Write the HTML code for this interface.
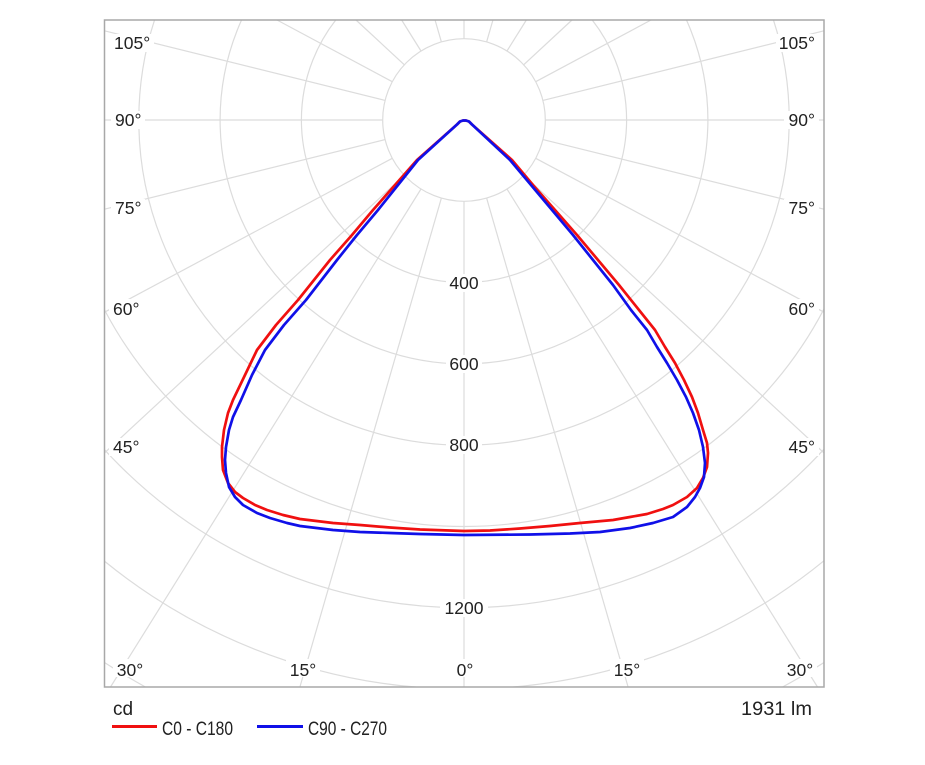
<!DOCTYPE html>
<html>
<head>
<meta charset="utf-8">
<style>
  html, body { margin: 0; padding: 0; background: #ffffff; width: 925px; height: 765px; overflow: hidden; position: relative; }
  svg { display: block; position: absolute; left: 0; top: 0; }
  text { font-family: "Liberation Sans", "DejaVu Sans", sans-serif; fill: #222; }
</style>
</head>
<body>
<svg width="925" height="765" viewBox="0 0 925 765" xmlns="http://www.w3.org/2000/svg">
  <defs>
    <clipPath id="frame">
      <rect x="104.5" y="20" width="719.5" height="667"/>
    </clipPath>
  </defs>
  <rect x="0" y="0" width="925" height="765" fill="#fff"/>

  <!-- grid circles -->
  <g clip-path="url(#frame)" stroke="#dcdcdc" stroke-width="1.2" fill="none">
    <circle cx="464" cy="120" r="81.3"/>
    <circle cx="464" cy="120" r="162.6"/>
    <circle cx="464" cy="120" r="243.9"/>
    <circle cx="464" cy="120" r="325.2"/>
    <circle cx="464" cy="120" r="406.5"/>
    <circle cx="464" cy="120" r="487.8"/>
    <circle cx="464" cy="120" r="569.1"/>
  </g>
  <g stroke="#dcdcdc" stroke-width="1.2" fill="none">
    <path d="M104.5,662.5 A650.4,650.4 0 0 0 145.4,687"/>
    <path d="M824,662.5 A650.4,650.4 0 0 1 782.6,687"/>
    <!-- radial lines, left -->
    <line x1="464" y1="201.3" x2="464" y2="687"/>
    <line x1="441.4" y1="198.1" x2="299.9" y2="687"/>
    <line x1="421.0" y1="189.0" x2="110.5" y2="687"/>
    <line x1="404.35" y1="175.2" x2="104.5" y2="452.9"/>
    <line x1="392.3" y1="158.3" x2="104.5" y2="312.2"/>
    <line x1="385.1" y1="139.6" x2="104.5" y2="209.2"/>
    <line x1="382.7" y1="120" x2="104.5" y2="120"/>
    <line x1="385.1" y1="100.4" x2="104.5" y2="30.8"/>
    <line x1="392.3" y1="81.7" x2="277" y2="20"/>
    <line x1="404.35" y1="64.8" x2="356" y2="20"/>
    <line x1="421.0" y1="51.0" x2="401.65" y2="20"/>
    <line x1="441.4" y1="41.9" x2="435.06" y2="20"/>
    <line x1="464" y1="38.7" x2="464" y2="20"/>
    <!-- radial lines, right -->
    <line x1="486.6" y1="198.1" x2="628.1" y2="687"/>
    <line x1="507.0" y1="189.0" x2="817.5" y2="687"/>
    <line x1="523.65" y1="175.2" x2="824" y2="452.9"/>
    <line x1="535.7" y1="158.3" x2="824" y2="312.2"/>
    <line x1="542.9" y1="139.6" x2="824" y2="209.2"/>
    <line x1="545.3" y1="120" x2="824" y2="120"/>
    <line x1="542.9" y1="100.4" x2="824" y2="30.8"/>
    <line x1="535.7" y1="81.7" x2="651" y2="20"/>
    <line x1="523.65" y1="64.8" x2="572" y2="20"/>
    <line x1="507.0" y1="51.0" x2="526.35" y2="20"/>
    <line x1="486.6" y1="41.9" x2="492.94" y2="20"/>
  </g>

  <!-- label backgrounds -->
  <g fill="#fff">
    <rect x="110" y="34" width="44" height="18"/>
    <rect x="111" y="111" width="34" height="18"/>
    <rect x="111" y="199" width="34" height="18"/>
    <rect x="109" y="299" width="34" height="18"/>
    <rect x="109" y="438" width="34" height="18"/>
    <rect x="776" y="34" width="44" height="18"/>
    <rect x="784" y="111" width="35" height="18"/>
    <rect x="784" y="199" width="35" height="18"/>
    <rect x="784" y="299" width="35" height="18"/>
    <rect x="784" y="438" width="35" height="18"/>
    <rect x="113" y="659" width="34" height="18"/>
    <rect x="286" y="659" width="34" height="18"/>
    <rect x="452" y="659" width="26" height="18"/>
    <rect x="610" y="659" width="34" height="18"/>
    <rect x="783" y="659" width="34" height="18"/>
    <rect x="446" y="274" width="36" height="18"/>
    <rect x="446" y="355" width="36" height="18"/>
    <rect x="446" y="436" width="36" height="18"/>
    <rect x="440" y="599" width="48" height="18"/>
  </g>

  <!-- frame -->
  <rect x="104.5" y="20" width="719.5" height="667" fill="none" stroke="#a8a8a8" stroke-width="1.5"/>

  <!-- angle labels -->
  <g font-size="17.5">
    <text x="114" y="49">105°</text>
    <text x="115" y="126">90°</text>
    <text x="115" y="214">75°</text>
    <text x="113" y="315">60°</text>
    <text x="113" y="453">45°</text>
    <text x="815" y="49" text-anchor="end">105°</text>
    <text x="815" y="126" text-anchor="end">90°</text>
    <text x="815" y="214" text-anchor="end">75°</text>
    <text x="815" y="315" text-anchor="end">60°</text>
    <text x="815" y="453" text-anchor="end">45°</text>
    <text x="130" y="676" text-anchor="middle">30°</text>
    <text x="303" y="676" text-anchor="middle">15°</text>
    <text x="465" y="676" text-anchor="middle">0°</text>
    <text x="627" y="676" text-anchor="middle">15°</text>
    <text x="800" y="676" text-anchor="middle">30°</text>
    <text x="464" y="289" text-anchor="middle">400</text>
    <text x="464" y="370" text-anchor="middle">600</text>
    <text x="464" y="451" text-anchor="middle">800</text>
    <text x="464" y="614" text-anchor="middle">1200</text>
  </g>

  <!-- curves -->
  <g fill="none" stroke-width="2.7" stroke-linejoin="round" stroke-linecap="round">
    <path stroke="#f01010" d="M464,531 L420,529.5 L390,527.5 L360,525 L333,523 L300,519 L283,515 L267,510 L255,505 L243,498 L235,492 L228,483 L223,470 L222,457 L222,447 L224,430 L228,413 L233,400 L245,375 L257,350 L276,325 L298,300 L330,260 L352,235 L373,210 L395,185 L417,160 L457,124.5 L460,121.5 L463,120.5 L466,120.5 L469,121.5 L472,124.5 L512,160 L533,185 L555,210 L577,235 L598,260 L619,285 L639,310 L655,330 L665,347 L675,363 L684,380 L692,397 L698,413 L703,430 L707,443 L708,453 L707,467 L703,478 L697,488 L687,497 L673,505 L663,509 L647,514 L630,517 L613,520 L580,523 L550,526 L520,528.5 L490,530.5 L464,531"/>
    <path stroke="#1010e8" d="M464,535 L420,534 L390,533 L360,532 L333,530 L300,526 L287,523 L270,518 L257,513 L243,505 L235,497 L229,487 L226,473 L225,460 L226,447 L229,430 L233,417 L241,400 L252,375 L265,350 L284,325 L306,300 L337,260 L357,235 L378,210 L398,185 L418,160 L457,124.5 L460,121.5 L463,120.5 L466,120.5 L469,121.5 L472,124.5 L510,160 L531,185 L552,210 L573,235 L593,260 L613,285 L631,310 L647,330 L657,347 L667,363 L677,380 L686,397 L693,413 L699,430 L703,447 L705,463 L704,477 L700,488 L695,497 L687,507 L673,517 L653,523 L630,528 L600,532 L570,533.5 L530,534.5 L464,535"/>
  </g>

  <!-- footer -->
  <text x="113" y="715" font-size="19">cd</text>
  <text x="812" y="715" font-size="19" text-anchor="end" textLength="71" lengthAdjust="spacingAndGlyphs">1931 lm</text>
  <line x1="112" y1="726.5" x2="157" y2="726.5" stroke="#f01010" stroke-width="3"/>
  <text x="162" y="735" font-size="19" textLength="71" lengthAdjust="spacingAndGlyphs">C0 - C180</text>
  <line x1="257" y1="726.5" x2="303" y2="726.5" stroke="#1010e8" stroke-width="3"/>
  <text x="308" y="735" font-size="19" textLength="79" lengthAdjust="spacingAndGlyphs">C90 - C270</text>
</svg>
</body>
</html>
